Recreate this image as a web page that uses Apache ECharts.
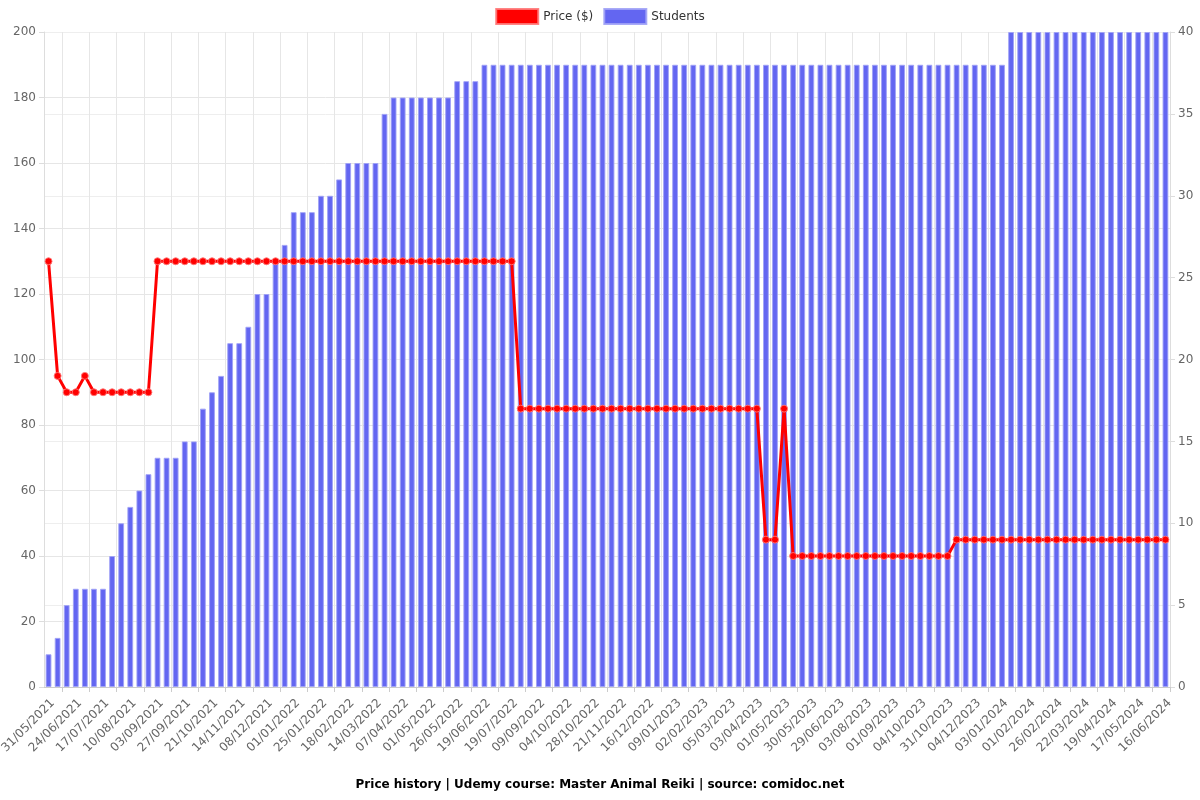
<!DOCTYPE html>
<html>
<head>
<meta charset="utf-8">
<script src="https://cdn.jsdelivr.net/npm/echarts@6/dist/echarts.min.js"></script>
<style>html,body{margin:0;padding:0;background:#fff}#c{width:1200px;height:800px}</style>
</head>
<body>
<div id="c"></div>
<script>
const dates = [
"31/05/2021","08/06/2021","16/06/2021","24/06/2021","02/07/2021","10/07/2021","17/07/2021","25/07/2021","02/08/2021","10/08/2021",
"18/08/2021","26/08/2021","03/09/2021","11/09/2021","19/09/2021","27/09/2021","05/10/2021","13/10/2021","21/10/2021","29/10/2021",
"06/11/2021","14/11/2021","22/11/2021","30/11/2021","08/12/2021","16/12/2021","24/12/2021","01/01/2022","09/01/2022","17/01/2022",
"25/01/2022","02/02/2022","10/02/2022","18/02/2022","26/02/2022","06/03/2022","14/03/2022","22/03/2022","30/03/2022","07/04/2022",
"15/04/2022","23/04/2022","01/05/2022","09/05/2022","17/05/2022","26/05/2022","03/06/2022","11/06/2022","19/06/2022","29/06/2022",
"09/07/2022","19/07/2022","05/08/2022","23/08/2022","09/09/2022","17/09/2022","25/09/2022","04/10/2022","12/10/2022","20/10/2022",
"28/10/2022","05/11/2022","13/11/2022","21/11/2022","29/11/2022","07/12/2022","16/12/2022","24/12/2022","01/01/2023","09/01/2023",
"17/01/2023","25/01/2023","02/02/2023","12/02/2023","22/02/2023","05/03/2023","15/03/2023","24/03/2023","03/04/2023","12/04/2023",
"21/04/2023","01/05/2023","10/05/2023","20/05/2023","30/05/2023","09/06/2023","19/06/2023","29/06/2023","10/07/2023","22/07/2023",
"03/08/2023","13/08/2023","22/08/2023","01/09/2023","12/09/2023","23/09/2023","04/10/2023","13/10/2023","22/10/2023","31/10/2023",
"11/11/2023","22/11/2023","04/12/2023","14/12/2023","24/12/2023","03/01/2024","13/01/2024","23/01/2024","01/02/2024","09/02/2024",
"17/02/2024","26/02/2024","05/03/2024","13/03/2024","22/03/2024","31/03/2024","09/04/2024","19/04/2024","28/04/2024","07/05/2024",
"17/05/2024","27/05/2024","06/06/2024","16/06/2024"
];

const price = [
130,95,90,90,95,90,90,90,90,90,
90,90,130,130,130,130,130,130,130,130,
130,130,130,130,130,130,130,130,130,130,
130,130,130,130,130,130,130,130,130,130,
130,130,130,130,130,130,130,130,130,130,
130,130,85,85,85,85,85,85,85,85,
85,85,85,85,85,85,85,85,85,85,
85,85,85,85,85,85,85,85,85,45,
45,85,40,40,40,40,40,40,40,40,
40,40,40,40,40,40,40,40,40,40,
45,45,45,45,45,45,45,45,45,45,
45,45,45,45,45,45,45,45,45,45,
45,45,45,45
];

const students = [
2,3,5,6,6,6,6,8,10,11,
12,13,14,14,14,15,15,17,18,19,
21,21,22,24,24,26,27,29,29,29,
30,30,31,32,32,32,32,35,36,36,
36,36,36,36,36,37,37,37,38,38,
38,38,38,38,38,38,38,38,38,38,
38,38,38,38,38,38,38,38,38,38,
38,38,38,38,38,38,38,38,38,38,
38,38,38,38,38,38,38,38,38,38,
38,38,38,38,38,38,38,38,38,38,
38,38,38,38,38,38,40,40,40,40,
40,40,40,40,40,40,40,40,40,40,
40,40,40,40
];

const titleText = "Price history | Udemy course: Master Animal Reiki | source: comidoc.net";
const priceName = "Price ($)";
const studentsName = "Students";

const FONT = "DejaVu Sans";
const chart = echarts.init(document.getElementById('c'));
chart.setOption({
  animation: false,
  textStyle: { fontFamily: FONT },
  title: {
    text: titleText, left: 'center', bottom: 4,
    textStyle: { fontFamily: FONT, fontSize: 12, fontWeight: 'bold', color: '#000' }
  },
  legend: {
    top: 3, left: 'center', itemWidth: 42, itemHeight: 15, itemGap: 10,
    textStyle: { fontFamily: FONT, fontSize: 12, color: '#333' },
    data: [
      { name: priceName, icon: 'rect' },
      { name: studentsName, icon: 'rect' }
    ]
  },
  grid: { left: 44, right: 30, top: 32, bottom: 113, containLabel: false, outerBoundsMode: 'none' },
  xAxis: {
    type: 'category', data: dates, boundaryGap: true,
    axisLine: { lineStyle: { color: '#ccc' } },
    axisTick: { show: true, interval: function (i) { return i % 3 === 2; }, lineStyle: { color: '#ccc' } },
    splitLine: { show: true, interval: function (i) { return i % 3 === 2; }, lineStyle: { color: '#e6e6e6' } },
    axisLabel: { interval: function (i) { return i % 3 === 0; }, rotate: 45, fontSize: 12, color: '#666', fontFamily: FONT, margin: 10, verticalAlign: 'top' }
  },
  yAxis: [
    {
      type: 'value', min: 0, max: 200, interval: 20, position: 'left',
      axisLine: { show: true, lineStyle: { color: '#ddd' } },
      axisTick: { show: true, lineStyle: { color: '#ddd' } },
      splitLine: { show: true, lineStyle: { color: '#e6e6e6' } },
      axisLabel: { fontSize: 12, color: '#666', fontFamily: FONT }
    },
    {
      type: 'value', min: 0, max: 40, interval: 5, position: 'right',
      axisLine: { show: true, lineStyle: { color: '#ddd' } },
      axisTick: { show: true, lineStyle: { color: '#ddd' } },
      splitLine: { show: true, lineStyle: { color: '#eeeeee' } },
      axisLabel: { fontSize: 12, color: '#666', fontFamily: FONT }
    }
  ],
  series: [
    {
      name: studentsName, type: 'bar', yAxisIndex: 1, data: students,
      barCategoryGap: '36%',
      itemStyle: { color: '#6366f1', borderColor: 'rgba(160,162,246,0.9)', borderWidth: 1 },
      z: 1
    },
    {
      name: priceName, type: 'line', yAxisIndex: 0, data: price,
      symbol: 'circle', symbolSize: 7, showSymbol: true, showAllSymbol: true,
      lineStyle: { color: '#ff0000', width: 3 },
      itemStyle: { color: '#ff0000', borderColor: 'rgba(255,120,120,0.9)', borderWidth: 1 },
      z: 3
    }
  ]
});
</script>
</body>
</html>
